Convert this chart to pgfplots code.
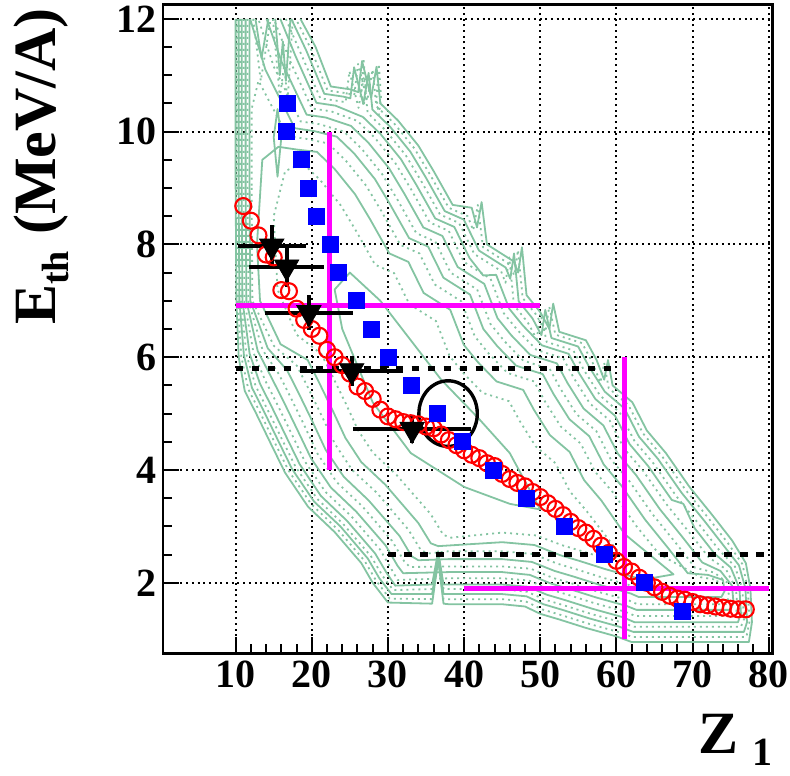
\documentclass[border=0pt]{standalone}
\usepackage{pgfplots}
\pgfplotsset{compat=1.18}
\usepackage{fontspec}
\setmainfont{Liberation Serif}
\definecolor{cgreen}{RGB}{132,196,162}
\definecolor{cmag}{RGB}{255,0,255}
\definecolor{cblue}{RGB}{0,0,255}
\definecolor{cred}{RGB}{255,0,0}
\begin{document}
\begin{tikzpicture}
\begin{axis}[
  name=ax,
  scale only axis,
  width=304.6pt, height=324.3pt,
  xmin=0.5, xmax=80.5, ymin=0.75, ymax=12.25,
  xtick={10,20,...,80}, xticklabels={10,20,30,40,50,60,70,80},
  ytick={2,4,...,12}, yticklabels={2,4,6,8,10,12},
  minor x tick num=4, minor y tick num=3,
  tick align=inside,
  xtick pos=left, ytick pos=left,
  major tick length=8pt, minor tick length=4.5pt,
  tick style={black, line width=1pt},
  axis line style={line width=1.2pt},
  grid=major,
  major grid style={black, line width=1pt, dash pattern=on 1pt off 1.85pt},
  ticklabel style={font=\fontsize{20}{24}\selectfont\bfseries, inner sep=0pt},
  xticklabel style={yshift=-3.6pt},
  yticklabel style={xshift=-3pt},
]
% ---------------- contour lines (green) ----------------
\pgfplotsset{solidc/.style={cgreen, line width=0.9pt, line join=round, mark=none},
             dotc/.style={cgreen, line width=0.9pt, line join=round, mark=none, dash pattern=on 1pt off 2pt}}
\addplot[solidc] coordinates {(10.0,12.0) (10.0,9.0) (10.1,7.0) (10.4,6.0) (11.2,5.4) (12.7,5.0) (14.5,4.5) (16.5,3.95) (19.5,3.35) (23.0,2.9) (26.5,2.35) (28.0,2.0) (30.0,1.65) (35.8,1.63) (36.6,2.40) (37.3,1.63) (38.0,1.62) (45.0,1.62) (48.0,1.58) (50.0,1.45) (52.5,1.35) (56.0,1.2) (60.0,1.05) (62.0,0.95) (77.4,0.95) (77.8,1.3) (77.6,1.9) (77.0,2.35) (75.2,2.75) (72.6,3.2) (69.6,3.7) (66.5,4.3) (64.0,4.7) (62.1,5.2) (59.5,5.5) (58.9,5.95) (58.4,5.6) (57.4,5.95) (56.0,6.3) (52.5,6.45) (51.7,6.95) (51.2,6.5) (50.0,6.8) (48.2,7.1) (47.6,7.95) (47.1,7.5) (46.5,7.7) (43.0,8.0) (42.3,8.75) (41.7,8.3) (41.0,8.65) (38.5,8.7) (36.0,9.3) (34.0,9.75) (31.3,10.2) (29.0,10.5) (28.5,11.15) (27.8,10.6) (26.6,11.25) (26.1,10.7) (25.0,10.75) (22.5,10.8) (20.5,11.5) (18.5,12.0)};
\addplot[dotc] coordinates {(10.2,12.0) (10.2,9.0) (10.3,7.0) (10.74,6.01) (11.67,5.43) (13.17,5.03) (14.97,4.53) (16.95,3.99) (19.9,3.40) (23.38,2.95) (26.93,2.39) (28.44,2.04) (30.23,1.72) (35.8,1.71) (36.6,2.44) (37.3,1.71) (38.0,1.71) (45.0,1.71) (48.1,1.67) (50.21,1.53) (52.71,1.43) (56.21,1.28) (60.21,1.13) (62.1,1.04) (77.07,1.04) (77.47,1.3) (77.27,1.9) (76.55,2.33) (74.67,2.70) (72.07,3.15) (69.07,3.65) (65.97,4.25) (63.49,4.65) (61.59,5.15) (58.99,5.45) (58.4,5.9) (57.9,5.55) (56.89,5.90) (55.49,6.25) (51.99,6.40) (51.18,6.90) (50.68,6.45) (49.49,6.75) (47.69,7.05) (47.08,7.90) (46.58,7.45) (45.98,7.65) (42.48,7.95) (41.8,8.7) (41.2,8.25) (40.48,8.50) (37.98,8.65) (35.48,9.25) (33.48,9.70) (30.78,10.15) (28.48,10.45) (27.98,11.10) (27.28,10.55) (26.08,11.2) (25.58,10.65) (24.57,10.68) (22.07,10.73) (19.9,11.46) (17.9,12.0)};
\addplot[solidc] coordinates {(10.39,12.0) (10.39,9.0) (10.49,7.0) (11.09,6.03) (12.14,5.46) (13.64,5.06) (15.44,4.56) (17.4,4.02) (20.3,3.44) (23.76,3.0) (27.36,2.43) (28.87,2.08) (30.47,1.80) (35.8,1.80) (36.6,2.48) (37.3,1.80) (38.0,1.80) (45.0,1.80) (48.2,1.76) (50.42,1.62) (52.92,1.52) (56.42,1.37) (60.42,1.22) (62.2,1.13) (76.75,1.13) (77.15,1.3) (76.95,1.9) (76.1,2.31) (74.14,2.65) (71.54,3.10) (68.54,3.60) (65.44,4.20) (62.97,4.59) (61.07,5.09) (58.47,5.39) (56.37,5.84) (54.97,6.19) (51.47,6.34) (50.66,6.84) (50.16,6.39) (48.97,6.69) (47.17,6.99) (46.56,7.84) (46.06,7.39) (45.46,7.59) (41.96,7.89) (39.96,8.44) (37.46,8.59) (34.96,9.19) (32.96,9.64) (30.26,10.09) (27.96,10.39) (27.46,11.04) (26.76,10.49) (25.56,11.14) (25.06,10.59) (24.14,10.62) (21.64,10.67) (19.3,11.43) (17.3,12.0)};
\addplot[dotc] coordinates {(10.59,12.0) (10.59,9.0) (10.69,7.0) (11.43,6.04) (12.62,5.49) (14.12,5.09) (15.92,4.59) (17.86,4.06) (20.7,3.49) (24.14,3.04) (27.78,2.47) (29.31,2.12) (30.7,1.87) (35.8,1.89) (36.6,2.52) (37.3,1.89) (38.0,1.89) (45.0,1.89) (48.3,1.84) (50.63,1.70) (53.13,1.60) (56.63,1.45) (60.63,1.30) (62.3,1.22) (76.35,1.22) (76.75,1.35) (76.55,1.9) (75.56,2.29) (73.5,2.58) (70.9,3.03) (67.9,3.53) (64.8,4.13) (62.35,4.52) (60.45,5.02) (57.85,5.32) (55.75,5.77) (54.35,6.12) (50.85,6.27) (50.04,6.77) (49.54,6.32) (48.35,6.62) (46.55,6.92) (45.94,7.77) (45.44,7.32) (44.84,7.53) (41.34,7.83) (39.34,8.38) (36.84,8.53) (34.34,9.13) (32.34,9.58) (29.64,10.03) (27.34,10.33) (26.84,10.97) (26.14,10.42) (24.94,11.07) (24.44,10.52) (23.62,10.54) (21.12,10.59) (18.58,11.38) (16.58,12.0)};
\addplot[solidc] coordinates {(10.79,12.0) (10.79,9.0) (10.89,7.0) (11.84,6.06) (13.2,5.53) (14.7,5.13) (16.5,4.63) (18.42,4.1) (21.2,3.54) (24.62,3.10) (28.32,2.52) (29.85,2.17) (30.96,1.95) (35.8,1.97) (36.6,2.56) (37.3,1.97) (38.0,1.97) (45.0,1.97) (48.4,1.93) (50.84,1.79) (53.34,1.69) (56.84,1.54) (60.84,1.39) (62.4,1.30) (75.96,1.30) (76.36,1.45) (76.16,1.9) (75.02,2.27) (72.87,2.52) (70.27,2.97) (68.8,3.4) (67.27,3.47) (64.17,4.07) (61.73,4.46) (59.83,4.96) (57.23,5.26) (55.13,5.71) (53.73,6.06) (50.23,6.21) (47.73,6.56) (45.93,6.86) (44.21,7.46) (42.5,7.45) (40.71,7.76) (38.71,8.31) (36.21,8.46) (33.71,9.06) (31.71,9.51) (29.01,9.96) (26.71,10.26) (23.11,10.46) (20.61,10.51) (17.86,11.34) (15.86,12.0)};
\addplot[dotc] coordinates {(11.05,12.0) (11.05,9.0) (11.15,7.0) (12.34,6.08) (13.91,5.58) (15.41,5.18) (17.21,4.68) (19.1,4.15) (21.8,3.61) (25.19,3.18) (28.96,2.59) (30.51,2.23) (31.27,2.05) (38.0,2.08) (45.0,2.08) (48.52,2.04) (51.09,1.89) (53.59,1.79) (57.09,1.64) (61.09,1.49) (62.52,1.41) (75.5,1.41) (75.9,1.55) (75.7,1.9) (74.39,2.24) (72.13,2.45) (69.53,2.90) (66.53,3.40) (63.43,4.00) (61.01,4.38) (59.11,4.88) (56.51,5.18) (54.41,5.63) (53.01,5.98) (49.51,6.13) (47.01,6.48) (45.21,6.78) (43.48,7.39) (39.98,7.69) (37.98,8.24) (35.48,8.39) (32.98,8.99) (30.98,9.44) (28.28,9.89) (25.98,10.19) (22.51,10.36) (20.01,10.41) (17.02,11.29) (15.02,12.0)};
\addplot[solidc] coordinates {(11.31,12.0) (11.31,9.0) (11.41,7.0) (12.9,6.11) (14.74,5.63) (16.24,5.23) (18.04,4.73) (19.89,4.21) (22.5,3.69) (25.85,3.26) (29.71,2.66) (31.27,2.30) (32.0,2.17) (38.0,2.19) (45.0,2.19) (48.64,2.14) (51.34,1.99) (53.84,1.89) (57.34,1.74) (61.34,1.59) (62.64,1.52) (74.98,1.52) (75.38,1.65) (75.18,1.95) (73.67,2.21) (71.28,2.36) (68.68,2.81) (65.68,3.31) (62.58,3.91) (60.19,4.29) (58.29,4.79) (55.69,5.09) (53.59,5.54) (52.19,5.89) (48.69,6.04) (46.19,6.39) (44.39,6.69) (42.65,7.30) (39.15,7.60) (37.15,8.15) (34.65,8.30) (32.15,8.90) (30.15,9.35) (27.45,9.80) (25.15,10.10) (21.82,10.25) (19.32,10.30) (16.06,11.23) (14.06,12.0)};
\addplot[dotc] coordinates {(11.57,12.0) (11.57,9.0) (11.67,7.0) (13.53,6.13) (15.68,5.70) (17.18,5.30) (18.98,4.80) (20.79,4.28) (23.3,3.78) (26.61,3.36) (30.57,2.74) (32.14,2.38) (32.9,2.28) (38.0,2.29) (45.0,2.29) (48.76,2.25) (51.6,2.09) (54.1,1.99) (57.6,1.84) (61.6,1.69) (62.76,1.62) (74.39,1.62) (74.79,1.75) (74.59,2.0) (72.86,2.18) (70.32,2.27) (67.72,2.72) (64.72,3.22) (61.62,3.82) (59.26,4.19) (57.36,4.69) (54.76,4.99) (52.66,5.44) (51.26,5.79) (47.76,5.94) (45.26,6.29) (43.46,6.59) (41.72,7.20) (38.22,7.50) (36.22,8.05) (33.72,8.20) (31.22,8.80) (29.22,9.25) (26.52,9.70) (24.22,10.0) (21.04,10.13) (18.54,10.18) (14.98,11.16) (12.98,12.0)};
\addplot[solidc] coordinates {(11.83,12.0) (11.83,9.0) (11.93,7.0) (14.21,6.16) (16.75,5.77) (18.25,5.37) (20.05,4.87) (21.81,4.36) (24.2,3.88) (27.47,3.46) (31.53,2.83) (33.12,2.47) (34.0,2.40) (38.0,2.42) (45.0,2.42) (48.9,2.37) (51.89,2.21) (54.39,2.11) (57.89,1.96) (61.89,1.81) (62.9,1.75) (73.8,1.75) (74.2,1.85) (74.0,2.05) (72.05,2.14) (69.37,2.17) (66.77,2.62) (63.77,3.12) (60.67,3.72) (58.33,4.10) (56.43,4.60) (53.83,4.90) (51.73,5.35) (50.33,5.70) (46.83,5.85) (44.33,6.20) (42.53,6.50) (40.78,7.11) (37.28,7.41) (35.28,7.96) (32.78,8.11) (30.28,8.71) (28.28,9.16) (25.58,9.61) (23.28,9.91) (20.27,10.01) (17.77,10.06) (13.9,11.1) (11.9,12.0)};
\addplot[dotc] coordinates {(12.1,9.0) (12.2,7.0) (15.03,6.2) (18.04,5.85) (19.54,5.45) (21.34,4.95) (23.05,4.46) (25.3,4.0) (28.51,3.60) (32.7,2.94) (34.32,2.58) (35.3,2.52) (38.0,2.56) (45.0,2.56) (49.06,2.51) (52.23,2.34) (54.73,2.24) (58.23,2.09) (62.23,1.94) (63.06,1.89) (73.08,1.89) (73.3,2.05) (71.06,2.10) (65.6,2.51) (62.6,3.01) (59.5,3.61) (57.2,3.97) (55.3,4.47) (52.7,4.77) (50.6,5.22) (49.2,5.57) (45.7,5.72) (43.2,6.07) (41.4,6.37) (39.64,6.99) (36.14,7.29) (34.14,7.84) (31.64,7.99) (29.14,8.59) (27.14,9.04) (24.44,9.49) (22.14,9.79) (19.32,9.87) (16.82,9.92) (13.0,10.9) (12.1,10.4) (12.1,9.0)};
\addplot[solidc] coordinates {(13.2,7.0) (15.9,6.23) (19.46,5.95) (20.96,5.55) (22.76,5.05) (24.41,4.57) (26.5,4.14) (29.65,3.74) (33.99,3.06) (35.63,2.70) (36.6,2.65) (45.0,2.72) (49.24,2.67) (52.6,2.49) (55.1,2.39) (58.6,2.24) (62.6,2.09) (63.24,2.05) (67.5,2.15) (61.12,2.86) (58.02,3.46) (55.76,3.82) (53.86,4.32) (51.26,4.62) (49.16,5.07) (47.76,5.42) (44.26,5.57) (41.76,5.92) (39.96,6.22) (38.18,6.84) (34.68,7.14) (32.68,7.69) (30.18,7.84) (27.68,8.44) (25.68,8.89) (22.98,9.34) (20.68,9.64) (18.12,9.68) (15.62,9.73) (13.5,9.5) (12.8,8.0) (13.2,7.0)};
\addplot[dotc] coordinates {(21.23,6.06) (22.73,5.66) (24.53,5.16) (26.1,4.70) (28.0,4.31) (31.08,3.92) (35.6,3.22) (37.27,2.85) (38.3,2.80) (45.0,2.89) (49.44,2.84) (53.02,2.66) (55.52,2.56) (59.02,2.41) (60.5,2.5) (56.1,3.27) (53.9,3.62) (52.0,4.12) (49.4,4.42) (47.3,4.87) (45.9,5.22) (42.4,5.37) (39.9,5.72) (38.1,6.02) (36.31,6.64) (32.81,6.94) (30.81,7.49) (28.31,7.64) (25.81,8.24) (23.81,8.69) (21.11,9.14) (18.81,9.44) (16.5,9.3) (15.0,8.5) (15.5,7.2) (18.0,6.4) (21.23,6.06)};
\addplot[solidc] coordinates {(24.0,6.5) (28.0,5.2) (33.0,4.3) (40.0,3.7) (46.0,3.4) (50.0,3.3) (46.0,4.3) (42.0,4.9) (37.0,5.6) (33.0,6.3) (29.0,7.0) (25.0,7.5) (23.0,7.2) (24.0,6.5)};
% small features hanging from the top edge and small islands
\addplot[solidc] coordinates {(12.6,12.0) (13.4,11.3) (14.3,12.0)};
\addplot[dotc] coordinates {(12.3,12.0) (13.3,10.9) (14.6,12.0)};
\addplot[solidc] coordinates {(15.2,12.0) (15.8,11.0) (16.2,11.6) (16.6,10.9) (17.2,12.0)};
\addplot[dotc] coordinates {(14.9,12.0) (15.8,10.6) (16.4,11.2) (16.8,10.5) (17.5,12.0)};
\addplot[dotc] coordinates {(26.5,10.7) (26.8,11.3) (27.1,10.7) (26.8,10.45) (26.5,10.7)};
\addplot[dotc] coordinates {(28.5,10.6) (28.8,11.2) (29.1,10.6) (28.8,10.3) (28.5,10.6)};
\addplot[solidc] coordinates {(15.0,9.9) (15.5,9.2) (16.0,9.9) (15.5,10.4) (15.0,9.9)};
% ---------------- dashed black lines ----------------
\addplot[black, line width=2.5pt, dash pattern=on 3.8pt off 4.2pt] coordinates {(10,5.8) (60,5.8)};
\addplot[black, line width=2.5pt, dash pattern=on 3.8pt off 4.2pt] coordinates {(30,2.5) (80,2.5)};
% ---------------- magenta lines ----------------
\addplot[cmag, line width=2.7pt] coordinates {(10,6.92) (50,6.92)};
\addplot[cmag, line width=2.7pt] coordinates {(22.3,4) (22.3,10)};
\addplot[cmag, line width=2.7pt] coordinates {(61.1,1) (61.1,6)};
\addplot[cmag, line width=2.7pt] coordinates {(40,1.9) (80,1.9)};
% ---------------- red open circles ----------------
\addplot[only marks, mark=o, mark size=4pt, cred, mark options={line width=1.05pt}] table {
x y
11 8.68
12 8.42
13 8.16
14 7.82
15 7.77
16 7.19
17 7.17
18 6.86
19 6.66
20 6.50
21 6.38
22 6.13
23 6.0
24 5.86
25 5.71
26 5.48
27 5.40
28 5.26
29 5.07
30 4.95
31 4.90
32 4.85
33 4.83
34 4.81
35 4.77
36 4.74
37 4.63
38 4.53
39 4.44
40 4.35
41 4.27
42 4.21
43 4.12
44 4.07
45 3.93
46 3.84
47 3.77
48 3.71
49 3.61
50 3.52
51 3.41
52 3.31
53 3.20
54 3.08
55 2.97
56 2.89
57 2.78
58 2.66
59 2.53
60 2.39
61 2.28
62 2.20
63 2.09
64 2.00
65 1.92
66 1.84
67 1.77
68 1.72
69 1.70
70 1.66
71 1.62
72 1.60
73 1.58
74 1.56
75 1.54
76 1.53
77 1.53
};
% ---------------- blue squares ----------------
\addplot[only marks, mark=square*, mark size=4pt, cblue, mark options={draw=cblue, fill=cblue}] table {
x y
16.86 10.5
16.61 10.0
18.58 9.5
19.50 9.0
20.64 8.5
22.39 8.0
23.44 7.5
25.81 7.0
27.88 6.5
30.07 6.0
33.12 5.5
36.43 5.0
39.82 4.5
43.80 4.0
48.13 3.5
53.13 3.0
58.48 2.5
63.63 2.0
68.65 1.5
};
% ---------------- black triangles with error bars ----------------
\addplot[only marks, black, mark=triangle*, mark size=7pt, mark options={rotate=180, fill=black, draw=black, line width=0.4pt},
  error bars/.cd, x dir=both, x explicit, y dir=both, y explicit, error mark=none,
  error bar style={line width=2pt, black}] coordinates {
(14.74,7.97) +- (4.47,0.37)
(16.70,7.60) +- (4.95,0.355)
(19.62,6.79) +- (5.76,0.31)
(25.24,5.76) +- (6.78,0.27)
(33.18,4.72) +- (7.73,0.235)
};
% ---------------- ellipse ----------------
\draw[black, line width=1.7pt] (axis cs:37.9,5.0) ellipse [x radius=14.6pt, y radius=16.4pt];
\end{axis}
% axis titles
\node[rotate=90, anchor=base east, inner sep=0pt, font=\fontsize{30}{30}\selectfont\bfseries]
  at ([xshift=-54.15pt, yshift=322.65pt]ax.south west)
  {E\raisebox{-7pt}{\fontsize{19}{19}\selectfont th}\hspace{8pt}(MeV/A)};
\node[anchor=base east, inner sep=0pt, font=\fontsize{30}{30}\selectfont\bfseries]
  at ([xshift=0pt, yshift=-49.85pt]ax.south east)
  {Z\hspace{7pt}\raisebox{-6pt}{\fontsize{20}{20}\selectfont 1}};
\pgfresetboundingbox
\path ([xshift=-81.65pt, yshift=-60.85pt]ax.south west) rectangle ++(395pt,387.5pt);
\end{tikzpicture}
\end{document}
